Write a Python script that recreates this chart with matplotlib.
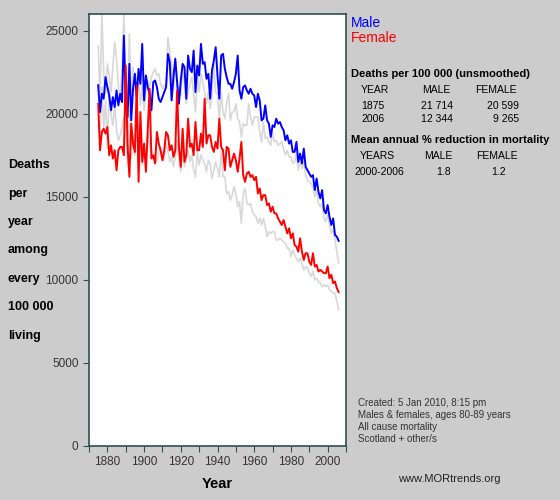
import matplotlib
matplotlib.use("Agg")
import matplotlib.pyplot as plt
import numpy as np

plt.rcParams['font.family'] = ['Liberation Sans', 'DejaVu Sans']

years = list(range(1875, 2007))
male = [21714, 20100, 21200, 20900, 22200, 21600, 21100, 20200, 21000, 20400,
        21400, 20500, 21200, 20700, 24700, 20800, 19800, 23000, 19600, 21500,
        22400, 21000, 22700, 21800, 24200, 20800, 22300, 21600, 21200, 20200,
        21900, 22000, 21600, 20900, 20700, 21000, 21300, 21600, 23600, 23100,
        20800, 22200, 23300, 21900, 20600, 22000, 23000, 22800, 20900, 23500,
        22700, 22500, 23800, 21300, 22900, 22300, 24200, 23000, 23100, 22100,
        22400, 20900, 22600, 23200, 24000, 22300, 20900, 23500, 23600, 22700,
        22200, 21800, 21800, 21500, 21900, 22400, 23500, 21400, 20900, 21600,
        21700, 21400, 21200, 21500, 21200, 21100, 20400, 21200, 20800, 19600,
        19700, 20500, 19600, 19400, 18600, 19300, 19200, 19700, 19400, 19500,
        19200, 19000, 18400, 18700, 18200, 18400, 17700, 17700, 18300, 17100,
        17600, 17000, 17900, 16800, 16600, 16400, 16200, 16300, 15400, 16100,
        15300, 14900, 15400, 14200, 14000, 14500, 13800, 13300, 13700, 12700,
        12600, 12344]
female = [20599, 17800, 18900, 19100, 18800, 19200, 17500, 18100, 17300, 17800,
          16600, 17800, 18000, 18000, 17500, 22900, 18100, 16200, 19400, 18200,
          17700, 21700, 15900, 20100, 17100, 18200, 16500, 19000, 21500, 17300,
          17500, 17000, 18900, 18200, 17800, 17200, 17800, 18900, 18700, 17800,
          18100, 17400, 17800, 21400, 18000, 16800, 19100, 17100, 17500, 19700,
          18000, 18200, 17500, 19500, 17800, 17800, 18800, 18000, 20900, 18200,
          18700, 18700, 18000, 17700, 18300, 17900, 19700, 18000, 17800, 16600,
          18000, 17900, 16800, 17200, 17600, 17200, 16500, 17300, 18300, 16300,
          15900, 16400, 16500, 16200, 16300, 16000, 16200, 15200, 15500, 14800,
          15100, 15100, 14500, 14600, 14100, 14400, 14000, 14000, 13700, 13500,
          13300, 13600, 13200, 12800, 13100, 12500, 12800, 12100, 12000, 11700,
          12500, 11700, 11200, 11600, 11600, 11100, 10900, 11600, 10800, 10900,
          10500, 10600, 10500, 10400, 10400, 10800, 10100, 10300, 9800, 9900,
          9500, 9265]
other_male = [24100, 21000, 26000, 22500, 21200, 23000, 22300, 21300, 22800, 24300,
              23300, 21700, 20800, 22800, 26000, 21700, 20400, 24800, 20500, 22800,
              21700, 20600, 22000, 20500, 21700, 20200, 21400, 22000, 21600, 22200,
              22500, 22700, 22300, 22400, 21800, 21500, 21700, 21800, 24600, 23700,
              22900, 21500, 23400, 21500, 21600, 21100, 22500, 21900, 20600, 21300,
              21800, 22200, 21200, 20100, 22300, 21300, 22400, 21900, 21300, 20600,
              21300, 20300, 21100, 23000, 21300, 21200, 19600, 21300, 20100, 19700,
              20700, 21200, 19600, 20100, 20100, 20600, 19700, 19500, 18600, 19400,
              19300, 19300, 20600, 19800, 19300, 19800, 19800, 19800, 18900, 18300,
              19500, 18500, 18600, 18300, 18100, 18900, 18300, 18400, 18100, 18200,
              18300, 17900, 17500, 17800, 17400, 17400, 17000, 17100, 17600, 16600,
              17200, 16700, 17100, 16300, 16000, 15900, 15800, 15600, 15000, 15400,
              14600, 14400, 14600, 13700, 13500, 14000, 13300, 12800, 13000, 12400,
              11700, 11000]
other_female = [19300, 18700, 21600, 19200, 20800, 17900, 21600, 19900, 19300, 20600,
                19000, 18400, 18700, 19200, 19800, 19400, 16900, 20200, 17300, 18700,
                17500, 20900, 17400, 18000, 16900, 17700, 17400, 18900, 18000, 17900,
                17600, 17300, 17100, 17800, 17800, 17300, 17200, 18200, 17800, 17100,
                17400, 16800, 17400, 18400, 17200, 16500, 17800, 16800, 17400, 17800,
                17100, 17500, 16600, 16200, 17700, 16900, 17500, 17200, 17000, 16500,
                17200, 17000, 16100, 16600, 17100, 16700, 16200, 17800, 16200, 16200,
                15200, 15300, 14800, 15100, 15600, 15200, 14400, 14700, 13400, 15200,
                15500, 14600, 14500, 14600, 14100, 13900, 13800, 13400, 13700, 13300,
                13700, 13200, 12600, 12900, 12800, 12900, 12900, 12400, 12400, 12500,
                12400, 12300, 12200, 11900, 11900, 11400, 11800, 11500, 11300, 11100,
                11300, 11000, 10600, 10800, 10700, 10400, 10200, 10500, 10000, 10100,
                9900, 9800, 9600, 9700, 9600, 9700, 9400, 9300, 9200, 9200,
                8700, 8200]

bg = "#cccccc"
edge = "#2f4f4f"
fig = plt.figure(figsize=(5.6, 5.0), dpi=100, facecolor=bg)
ax = fig.add_axes([89/560, 54/500, 257/560, 432/500])
ax.set_facecolor("white")
ax.plot(years, other_male, color="#d8d8d8", lw=1.2)
ax.plot(years, other_female, color="#d8d8d8", lw=1.2)
ax.plot(years, male, color="#0000ff", lw=1.4)
ax.plot(years, female, color="#ff0000", lw=1.4)
ax.set_xlim(1870, 2010)
ax.set_ylim(0, 26000)
ax.set_xticks(range(1870, 2011, 10))
ax.set_xticklabels([str(y) if y % 20 == 0 and 1880 <= y <= 2000 else "" for y in range(1870, 2011, 10)])
ax.set_yticks(range(0, 25001, 5000))
for s in ax.spines.values():
    s.set_color(edge)
    s.set_linewidth(1.2)
ax.tick_params(colors=edge, labelcolor="#333333", labelsize=8.5, length=4)
ax.set_xlabel("Year", fontsize=10.5, fontweight="bold", labelpad=6)

ylab = ["Deaths", "per", "year", "among", "every", "100 000", "living"]
for i, t in enumerate(ylab):
    fig.text(8/560, 1 - (165 + i*28.5)/500, t, fontsize=9, fontweight="bold", va="center")

def T(x, y, s, **kw):
    fig.text(x/560, 1 - y/500, s, va="center", **kw)

T(351, 23, "Male", color="#0000ff", fontsize=10)
T(351, 38, "Female", color="#ff0000", fontsize=10)
T(351, 74, "Deaths per 100 000 (unsmoothed)", fontsize=8, fontweight="bold")
T(361, 90, "YEAR", fontsize=7.5)
T(422, 90, "MALE", fontsize=7.5)
T(475, 90, "FEMALE", fontsize=7.5)
for (c1, c2, c3, y) in [("1875", "21 714", "20 599", 106), ("2006", "12 344", "9 265", 119)]:
    T(361, y, c1, fontsize=7.5)
    T(453, y, c2, fontsize=7.5, ha="right")
    T(519, y, c3, fontsize=7.5, ha="right")
T(351, 140, "Mean annual % reduction in mortality", fontsize=8, fontweight="bold")
T(360, 156, "YEARS", fontsize=7.5)
T(424, 156, "MALE", fontsize=7.5)
T(476, 156, "FEMALE", fontsize=7.5)
T(354, 172, "2000-2006", fontsize=7.5)
T(444, 172, "1.8", fontsize=7.5, ha="center")
T(499, 172, "1.2", fontsize=7.5, ha="center")

for i, t in enumerate(["Created: 5 Jan 2010, 8:15 pm", "Males & females, ages 80-89 years",
                       "All cause mortality", "Scotland + other/s"]):
    T(358, 403 + i*12, t, fontsize=7, color="#333333")
T(398, 479, "www.MORtrends.org", fontsize=8, color="#222222")

fig.savefig("out.png", dpi=100, facecolor=bg)
